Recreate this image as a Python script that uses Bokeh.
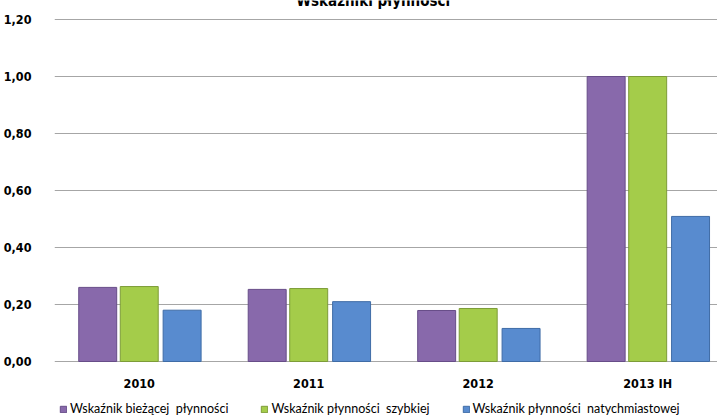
from bokeh.plotting import figure
from bokeh.models import ColumnDataSource, Legend, LegendItem, Label, FixedTicker
from bokeh.embed import file_html
from bokeh.resources import INLINE

categories = ["2010", "2011", "2012", "2013 IH"]
biezaca = [0.26, 0.253, 0.179, 1.0]
szybka = [0.263, 0.256, 0.186, 1.0]
natychmiastowa = [0.18, 0.21, 0.116, 0.509]
series_names = ["Wskaźnik bieżącej  płynności", "Wskaźnik płynności  szybkiej", "Wskaźnik płynności  natychmiastowej"]
y_ticks = [0.0, 0.2, 0.4, 0.6, 0.8, 1.0, 1.2]
y_tick_labels = ["0,00", "0,20", "0,40", "0,60", "0,80", "1,00", "1,20"]
title_text = "Wskaźniki płynności"

FONT = "DejaVu Sans Condensed"
LFONT = "Lato"
fills = ["#8869ab", "#a4cc4a", "#588bcf"]
lines = ["#674d88", "#7d9c38", "#3f6ca6"]

centers = [i + 0.5 for i in range(len(categories))]

PX = 285.0  # pixels per unit on y
p = figure(width=717, height=419, output_backend="svg", toolbar_location=None,
           x_range=(0, 3.912), y_range=(-58 / PX, 1.2 + 19 / PX),
           min_border_left=52, min_border_right=0, min_border_top=0, min_border_bottom=0)
p.outline_line_color = None
p.background_fill_color = "white"
p.border_fill_color = "white"

offsets = [-0.245, 0.0, 0.253]
items = []
for vals, off, fc, lc, name in zip([biezaca, szybka, natychmiastowa], offsets, fills, lines, series_names):
    src = ColumnDataSource(dict(x=[c + off for c in centers], top=vals))
    r = p.vbar(x="x", top="top", bottom=0, width=0.224, source=src, fill_color=fc, line_color=lc, line_width=1)
    items.append(LegendItem(label=name, renderers=[r]))

p.xgrid.grid_line_color = None
p.ygrid.grid_line_color = "#a6a6a6"
p.ygrid.grid_line_width = 1
p.ygrid.ticker = FixedTicker(ticks=y_ticks)

p.yaxis.ticker = FixedTicker(ticks=y_ticks)
p.yaxis.major_label_overrides = {t: l for t, l in zip(y_ticks, y_tick_labels)}
p.yaxis.axis_line_color = None
p.yaxis.major_tick_line_color = None
p.yaxis.minor_tick_line_color = None
p.yaxis.major_label_text_font = FONT
p.yaxis.major_label_text_font_style = "bold"
p.yaxis.major_label_text_font_size = "12.5px"
p.yaxis.major_label_text_color = "#000000"
p.yaxis.major_label_standoff = 17

p.xaxis.fixed_location = 0
p.xaxis.ticker = FixedTicker(ticks=centers)
p.xaxis.major_label_overrides = {c: l for c, l in zip(centers, categories)}
p.xaxis.axis_line_color = None
p.xaxis.major_tick_line_color = None
p.xaxis.minor_tick_line_color = None
p.xaxis.major_label_text_font = FONT
p.xaxis.major_label_text_font_style = "bold"
p.xaxis.major_label_text_font_size = "12.5px"
p.xaxis.major_label_text_color = "#000000"
p.xaxis.major_label_standoff = 8

legend = Legend(items=items, orientation="horizontal", location=(5, 3),
                label_text_font=LFONT, label_text_font_size="12.5px", label_text_color="#000000",
                glyph_width=8, glyph_height=8, spacing=32, label_standoff=3,
                padding=0, margin=0, border_line_color=None, background_fill_alpha=0)
p.add_layout(legend)

title = Label(x=1.88, y=1.2 + 19 / PX, text=title_text, text_align="center", text_baseline="alphabetic",
              text_font=FONT, text_font_style="bold", text_font_size="15px", text_color="#000000")
p.add_layout(title)

open("out.html", "w").write(file_html(p, INLINE))
